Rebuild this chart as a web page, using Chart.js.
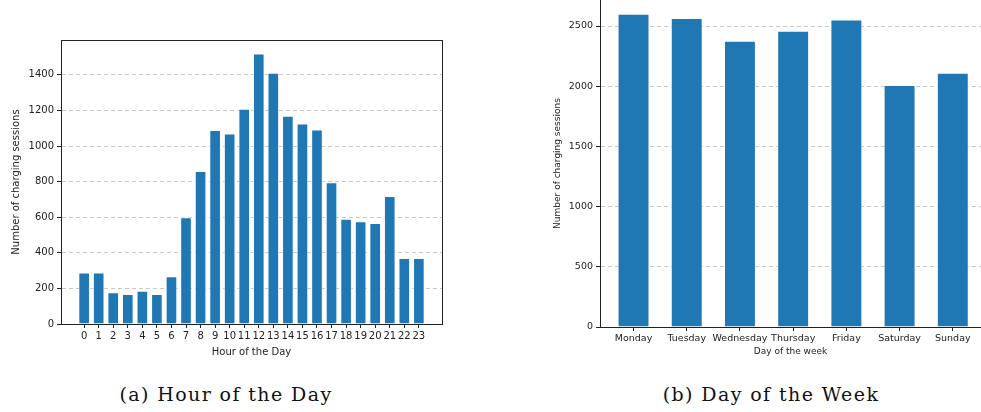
<!DOCTYPE html>
<html>
<head>
<meta charset="utf-8">
<script src="https://cdn.jsdelivr.net/npm/chart.js@4/dist/chart.umd.min.js"></script>
<style>
  body { margin: 0; background: #fff; width: 981px; height: 412px; position: relative; overflow: hidden; }
  .box { position: absolute; }
  .caption { position: absolute; font-family: "DejaVu Serif", serif; font-size: 19px; letter-spacing: 1.4px; line-height: 22px; color: #111; transform: translateX(-50%); white-space: nowrap; }
</style>
</head>
<body>
<div class="box" style="left:0;top:0;width:470px;height:370px"><canvas id="hour-chart"></canvas></div>
<div class="box" style="left:540px;top:0;width:441px;height:370px"><canvas id="day-chart"></canvas></div>
<div class="caption" style="left:226px;top:383px">(a) Hour of the Day</div>
<div class="caption" style="left:771px;top:383px">(b) Day of the Week</div>
<script>
const colBar = "#1f77b4";
const colAxis = "#222";
const colGrid = "#c8c8c8";

const hourLabels = ["0","1","2","3","4","5","6","7","8","9","10","11","12","13","14","15","16","17","18","19","20","21","22","23"];
const hourCounts = [290, 290, 178, 169, 187, 169, 268, 600, 860, 1090, 1071, 1210, 1520, 1412, 1170, 1127, 1093, 796, 592, 577, 567, 719, 371, 371];
const hourTicks = [0, 200, 400, 600, 800, 1000, 1200, 1400];

const dayLabels = ["Monday", "Tuesday", "Wednesday", "Thursday", "Friday", "Saturday", "Sunday"];
const dayCounts = [2602, 2566, 2378, 2461, 2555, 2010, 2112];
const dayTicks = [0, 500, 1000, 1500, 2000, 2500];

// draws the full box round the plot (left chart only)
const frame = {
	id: "frame",
	afterDraw(chart, args, opts) {
		if (!opts.on) return;
		const a = chart.chartArea;
		const ctx = chart.ctx;
		ctx.save();
		ctx.strokeStyle = colAxis;
		ctx.lineWidth = 1;
		ctx.strokeRect(Math.round(a.left) + 0.5, Math.round(a.top) + 0.5, Math.round(a.right - a.left), Math.round(a.bottom - a.top));
		ctx.restore();
	},
};

function fixSize(size, vertical) {
	return function (scale) {
		if (vertical) scale.width = size; else scale.height = size;
		scale.paddingTop = 0;
		scale.paddingBottom = 0;
		scale.paddingLeft = 0;
		scale.paddingRight = 0;
	};
}

function keepTicks(lo, hi) {
	return function (scale) {
		scale.ticks = scale.ticks.filter((t) => t.value >= lo && t.value <= hi);
	};
}

function setTicks(values) {
	return function (scale) {
		scale.ticks = values.map((v) => ({ value: v }));
	};
}

function makeChart(el, labels, values, o) {
	return new Chart(document.getElementById(el), {
		type: "bar",
		data: {
			datasets: [
				{
					data: values.map((v, i) => ({ x: i, y: v })),
					backgroundColor: colBar,
					borderColor: "rgba(255,255,255,0.55)",
					borderWidth: 1,
					barPercentage: o.barPct,
					categoryPercentage: 1,
				},
			],
		},
		plugins: [frame],
		options: {
			responsive: true,
			maintainAspectRatio: false,
			animation: false,
			layout: { padding: o.padding },
			plugins: {
				legend: { display: false },
				tooltip: { enabled: false },
				frame: { on: o.box },
			},
			scales: {
				x: {
					type: "linear",
					min: o.xmin,
					max: o.xmax,
					offset: false,
					afterFit: fixSize(o.xh, false),
					afterBuildTicks: keepTicks(0, labels.length - 1),
					ticks: {
						stepSize: 1,
						includeBounds: false,
						autoSkip: false,
						maxRotation: 0,
						padding: 2,
						color: colAxis,
						font: { family: "DejaVu Sans", size: o.tickSize },
						callback: (v) => labels[v],
					},
					grid: { display: true, offset: false, drawOnChartArea: false, drawTicks: true, tickLength: 4, color: colAxis },
					border: { display: true, color: colAxis, width: 1 },
					title: {
						display: true,
						text: o.xTitle,
						color: colAxis,
						font: { family: "DejaVu Sans", size: o.titleSize },
						padding: { top: 0, bottom: o.xTitlePad },
					},
				},
				y: {
					min: 0,
					max: o.ymax,
					afterFit: fixSize(o.yw, true),
					afterBuildTicks: setTicks(o.yTicks),
					ticks: {
						padding: 3,
						color: colAxis,
						font: { family: "DejaVu Sans", size: o.tickSize },
						callback: (v) => String(v),
					},
					grid: { color: colGrid, tickColor: colAxis, tickLength: 4, tickBorderDash: [] },
					border: { display: true, color: colAxis, width: 1, dash: [4, 3] },
					title: {
						display: true,
						text: "Number of charging sessions",
						color: colAxis,
						font: { family: "DejaVu Sans", size: o.titleSize },
						padding: { top: o.yTitlePad, bottom: 0 },
					},
				},
			},
		},
	});
}

makeChart("hour-chart", hourLabels, hourCounts, {
	barPct: 0.8,
	padding: { top: 40, right: 28, left: 0, bottom: 0 },
	box: true,
	xmin: -1.59,
	xmax: 24.59,
	xh: 46,
	yw: 61,
	ymax: 1596,
	yTicks: hourTicks,
	tickSize: 10,
	titleSize: 10,
	xTitle: "Hour of the Day",
	xTitlePad: 12,
	yTitlePad: 10,
});

makeChart("day-chart", dayLabels, dayCounts, {
	barPct: 0.6,
	padding: { top: 0, right: 0, left: 0, bottom: 0 },
	box: false,
	xmin: -0.63,
	xmax: 6.53,
	xh: 43,
	yw: 60,
	ymax: 2716,
	yTicks: dayTicks,
	tickSize: 9.5,
	titleSize: 9,
	xTitle: "Day of the week",
	xTitlePad: 12.5,
	yTitlePad: 12.5,
});
</script>
</body>
</html>
